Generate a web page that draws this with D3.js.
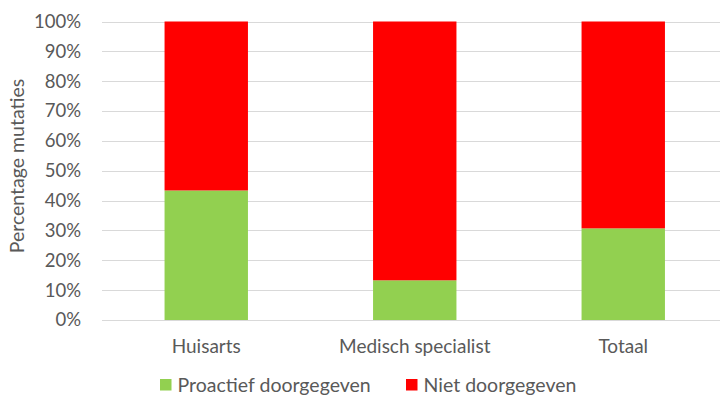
<!DOCTYPE html>
<html><head><meta charset="utf-8">
<script src="https://cdn.jsdelivr.net/npm/d3@7"></script>
<style>html,body{margin:0;padding:0;background:#fff;}</style>
</head><body>
<svg id="c" width="720" height="395"></svg>
<script>
const categories = ["Huisarts", "Medisch specialist", "Totaal"];
const proactief = [43.4, 13.3, 30.7];
const niet = [56.6, 86.7, 69.3];
const seriesNames = ["Proactief doorgegeven", "Niet doorgegeven"];
const yTicks = [0,10,20,30,40,50,60,70,80,90,100];

const colors = ["#92D050", "#FF0000"];
const font = "Lato, 'Open Sans', sans-serif";
const textColor = "#595959";

const svg = d3.select("#c");
const x = d3.scaleBand().domain(categories).range([102, 727.5]).paddingInner(0.6).paddingOuter(0.3);
const y = d3.scaleLinear().domain([0, 100]).range([320, 21.5]);

const rows = categories.map((c, i) => ({cat: c, p: proactief[i], n: niet[i]}));
const stack = d3.stack().keys(["p", "n"])(rows);

// gridlines
svg.append("g").selectAll("line").data(yTicks).join("line")
  .attr("x1", 102).attr("x2", 727.5)
  .attr("y1", d => Math.round(y(d)) + 0.5).attr("y2", d => Math.round(y(d)) + 0.5)
  .attr("stroke", "#D9D9D9").attr("stroke-width", 1);

// bars
svg.append("g").selectAll("g").data(stack).join("g")
  .attr("fill", (d, i) => colors[i])
  .selectAll("rect").data(d => d).join("rect")
  .attr("x", d => x(d.data.cat))
  .attr("width", x.bandwidth())
  .attr("y", d => y(d[1]))
  .attr("height", d => y(d[0]) - y(d[1]));

// y axis labels
const yAxis = d3.axisLeft(y).tickValues(yTicks).tickFormat(d => d + "%").tickSize(0).tickPadding(0);
const ga = svg.append("g").attr("transform", "translate(81,0)").call(yAxis);
ga.select(".domain").remove();
ga.selectAll("text").attr("font-family", font).attr("font-size", 18.5).attr("fill", textColor);

// x axis labels
const xAxis = d3.axisBottom(x).tickSize(0).tickPadding(0);
const gx = svg.append("g").attr("transform", "translate(0,339)").call(xAxis);
gx.select(".domain").remove();
gx.selectAll("text").attr("font-family", font).attr("font-size", 19).attr("fill", textColor);

// y title
svg.append("text")
  .attr("transform", "translate(24,166) rotate(-90)")
  .attr("text-anchor", "middle")
  .attr("font-family", font).attr("font-size", 19.5).attr("fill", textColor)
  .text("Percentage mutaties");

// legend
const legX = [160, 406];
const leg = svg.append("g").selectAll("g").data(seriesNames).join("g")
  .attr("transform", (d, i) => `translate(${legX[i]},379)`);
leg.append("rect").attr("width", 11.5).attr("height", 11.5).attr("fill", (d, i) => colors[i]);
leg.append("text").attr("x", 17.5).attr("y", 12.5)
  .attr("font-family", font).attr("font-size", 19.5).attr("fill", textColor)
  .text(d => d);
</script>
</body></html>
